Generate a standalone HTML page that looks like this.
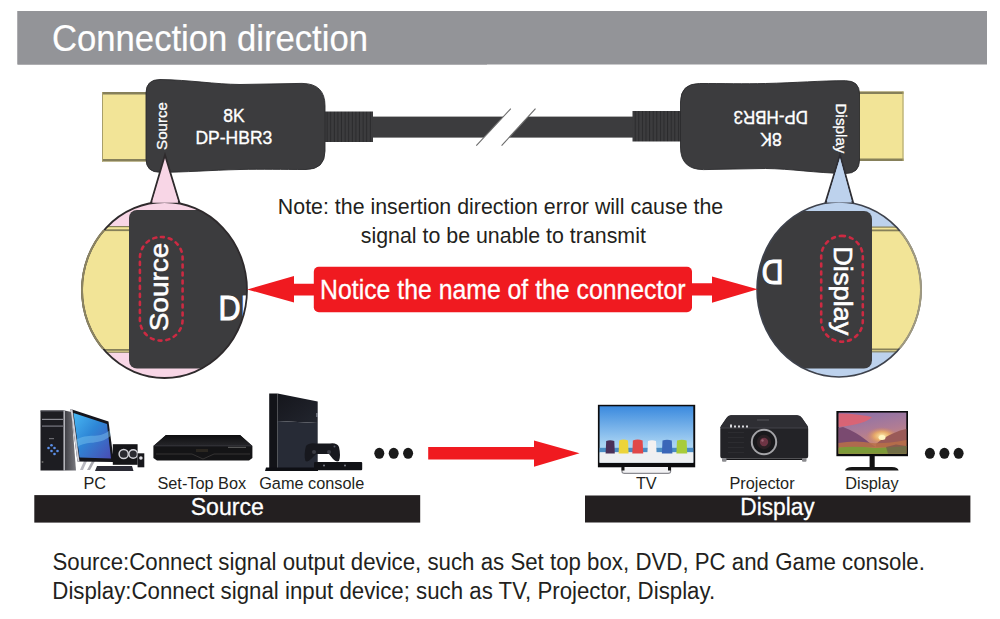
<!DOCTYPE html>
<html><head><meta charset="utf-8">
<style>
html,body{margin:0;padding:0;background:#fff;}
body{width:1000px;height:619px;overflow:hidden;position:relative;}
svg{position:absolute;left:0;top:0;}
text{font-family:"Liberation Sans",sans-serif;}
</style></head><body>
<svg width="1000" height="619" viewBox="0 0 1000 619">
<defs>
  <clipPath id="cl"><ellipse cx="164.5" cy="290" rx="82.5" ry="88"/></clipPath>
  <clipPath id="yl"><rect x="60" y="230" width="69" height="119"/></clipPath><clipPath id="yr"><rect x="872" y="231" width="60" height="117.5"/></clipPath>
  <clipPath id="cr"><ellipse cx="839" cy="289.5" rx="82" ry="87.5"/></clipPath>
  <pattern id="ribs" x="0" y="0" width="3.6" height="10" patternUnits="userSpaceOnUse">
    <rect width="3.6" height="10" fill="#3c3c3e"/><rect x="2.6" width="1" height="10" fill="#2a2a2c"/>
  </pattern>

  <linearGradient id="towerSide" x1="0" y1="0" x2="1" y2="0"><stop offset="0" stop-color="#3e3e44"/><stop offset="1" stop-color="#7a7a80"/></linearGradient>
  <linearGradient id="pcScreen" x1="0" y1="0" x2="1" y2="1"><stop offset="0" stop-color="#48b8f4"/><stop offset="0.45" stop-color="#2e86d6"/><stop offset="1" stop-color="#4a4cb4"/></linearGradient>
  <linearGradient id="stbTop" x1="0" y1="0" x2="0" y2="1"><stop offset="0" stop-color="#0e0e10"/><stop offset="1" stop-color="#26262a"/></linearGradient>
  <linearGradient id="psTop" x1="0" y1="0" x2="1" y2="1"><stop offset="0" stop-color="#15161c"/><stop offset="1" stop-color="#22252e"/></linearGradient>
  <linearGradient id="tvScreen" x1="0" y1="0" x2="0" y2="1"><stop offset="0" stop-color="#3b8ade"/><stop offset="0.65" stop-color="#a4d0f2"/><stop offset="1" stop-color="#c8e4f8"/></linearGradient>
  <linearGradient id="monSky" x1="0" y1="0" x2="0.3" y2="1"><stop offset="0" stop-color="#8670ac"/><stop offset="0.55" stop-color="#b07c94"/><stop offset="1" stop-color="#d49070"/></linearGradient><radialGradient id="sunGlow"><stop offset="0" stop-color="#fff0b0"/><stop offset="0.5" stop-color="#f0b060" stop-opacity="0.8"/><stop offset="1" stop-color="#d08060" stop-opacity="0"/></radialGradient>
</defs>
<!-- header -->
<rect x="17.5" y="11" width="469.5" height="53.5" fill="#939498"/>
<rect x="17.5" y="11" width="969.5" height="53.5" fill="#939498"/>
<text transform="translate(52 50.6) scale(0.937 1)" font-size="37" fill="#fff" stroke="#fff" stroke-width="0.2">Connection direction</text>

<!-- cable -->
<rect x="370" y="116.6" width="265" height="21" fill="#3c3c3e"/>
<polygon points="476.3,145.6 510.8,108.7 535.5,108.7 501.6,145.6" fill="#fff"/>
<line x1="476.3" y1="145.6" x2="510.8" y2="108.7" stroke="#6a6a6a" stroke-width="1.1"/>
<line x1="501.6" y1="145.6" x2="535.5" y2="108.7" stroke="#6a6a6a" stroke-width="1.1"/>

<!-- left connector -->
<g id="conn">
  <rect x="102" y="92" width="46" height="69.5" fill="#f2e497"/>
  <rect x="102" y="92" width="46" height="2.5" fill="#86805a"/>
  <rect x="102" y="159" width="46" height="2.5" fill="#86805a"/>
  <rect x="102" y="92" width="1" height="69.5" fill="#a89f6a"/>
  <rect x="322" y="111.5" width="51" height="30.5" fill="url(#ribs)"/>
  <path d="M146,93 Q146,79.5 160,79.5 C190,80 215,84.3 240,84.5 L302,83.4 Q325,83.5 325,106 L325,151 Q325,169.5 306,169.5 C282,169.5 262,169 240,169.5 C210,170.2 185,172.3 160,172.3 Q146,172.3 146,159 Z" fill="#3c3c3e" stroke="#2a2a2c" stroke-width="0.9"/>
</g>
<g transform="rotate(180 502.75 126.5)">
  <rect x="102" y="92" width="46" height="69.5" fill="#f2e497"/>
  <rect x="102" y="92" width="46" height="2.5" fill="#86805a"/>
  <rect x="102" y="159" width="46" height="2.5" fill="#86805a"/>
  <rect x="102" y="92" width="1" height="69.5" fill="#a89f6a"/>
  <rect x="322" y="111.5" width="51" height="30.5" fill="url(#ribs)"/>
  <path d="M146,93 Q146,79.5 160,79.5 C190,80 215,84.3 240,84.5 L302,83.4 Q325,83.5 325,106 L325,151 Q325,169.5 306,169.5 C282,169.5 262,169 240,169.5 C210,170.2 185,172.3 160,172.3 Q146,172.3 146,159 Z" fill="#3c3c3e" stroke="#2a2a2c" stroke-width="0.9"/>
</g>
<text x="233.9" y="122.2" font-size="17.5" fill="#fff" stroke="#fff" stroke-width="0.35" text-anchor="middle">8K</text>
<text x="233.9" y="143.9" font-size="17.5" fill="#fff" stroke="#fff" stroke-width="0.35" text-anchor="middle">DP-HBR3</text>
<text transform="translate(167.4 126) rotate(-90) scale(1.02 1)" font-size="14.8" fill="#fff" stroke="#fff" stroke-width="0.3" text-anchor="middle">Source</text>
<text transform="translate(770.8 111) rotate(180) scale(0.97 1)" font-size="17.5" fill="#fff" stroke="#fff" stroke-width="0.35" text-anchor="middle">DP-HBR3</text>
<text transform="translate(771.1 133) rotate(180)" font-size="17.5" fill="#fff" stroke="#fff" stroke-width="0.35" text-anchor="middle">8K</text>
<text transform="translate(836.2 128.5) rotate(90) scale(1.03 1)" font-size="14.8" fill="#fff" stroke="#fff" stroke-width="0.3" text-anchor="middle">Display</text>

<!-- left magnifier -->
<polygon points="165,155 151,202.5 179.4,202.5" fill="#f8d6e6" stroke="#2e2a2c" stroke-width="1.8" stroke-linejoin="miter"/>
<ellipse cx="164.5" cy="290" rx="82.5" ry="88" fill="#f8d6e6"/>
<g clip-path="url(#cl)">
  <rect x="70" y="226" width="60" height="126" fill="#f2e497"/>
  <rect x="70" y="226" width="60" height="1.2" fill="#86805a"/>
  <rect x="70" y="229.3" width="60" height="1.8" fill="#86805a"/>
  <rect x="70" y="349" width="60" height="1.8" fill="#86805a"/>
  <rect x="70" y="351.6" width="60" height="1.2" fill="#86805a"/>
  <rect x="129" y="210" width="200" height="158.5" rx="8" fill="#3c3c3e"/>
  <text transform="translate(218.6 319.6) scale(0.86 1)" font-size="35.6" fill="#fff" stroke="#fff" stroke-width="1.05">DP</text>
</g>
<ellipse cx="164.5" cy="290" rx="82.5" ry="88" fill="none" stroke="#2e2a2c" stroke-width="1.8"/>
<ellipse cx="164.5" cy="290" rx="82.5" ry="88" fill="none" stroke="#8c8462" stroke-width="2" clip-path="url(#yl)"/>
<polygon points="165,162 152.2,202.8 178.2,202.8" fill="#f8d6e6"/>
<rect x="139.9" y="237" width="42.7" height="103.6" rx="21" fill="none" stroke="#cc2a42" stroke-width="2.6" stroke-linecap="round" stroke-dasharray="3 5"/>
<text transform="translate(168.4 287) rotate(-90) scale(1.08 1)" font-size="25.9" fill="#fff" stroke="#fff" stroke-width="0.55" text-anchor="middle">Source</text>

<!-- right magnifier -->
<polygon points="840,155 825.6,202 853,202" fill="#bdd2ed" stroke="#2e2e34" stroke-width="1.8"/>
<ellipse cx="839" cy="289.5" rx="82" ry="87.5" fill="#bdd2ed"/>
<g clip-path="url(#cr)">
  <rect x="871" y="227" width="60" height="124.5" fill="#f2e497"/>
  <rect x="871" y="226.5" width="60" height="1.2" fill="#86805a"/>
  <rect x="871" y="229.5" width="60" height="1.8" fill="#86805a"/>
  <rect x="871" y="348.5" width="60" height="1.8" fill="#86805a"/>
  <rect x="871" y="351.2" width="60" height="1.2" fill="#86805a"/>
  <rect x="672" y="211" width="200" height="157.5" rx="8" fill="#3c3c3e"/>
  <text transform="translate(783.4 260) rotate(180) scale(0.86 1)" font-size="35.2" fill="#fff" stroke="#fff" stroke-width="1.05">D</text>
</g>
<ellipse cx="839" cy="289.5" rx="82" ry="87.5" fill="none" stroke="#3e424c" stroke-width="1.6"/>
<ellipse cx="839" cy="289.5" rx="82" ry="87.5" fill="none" stroke="#a09a80" stroke-width="2" clip-path="url(#yr)"/>
<polygon points="840,158 826.8,202.4 851.8,202.4" fill="#bdd2ed"/>
<rect x="821.2" y="235.9" width="41.6" height="105.8" rx="20.8" fill="none" stroke="#cc2a42" stroke-width="2.6" stroke-linecap="round" stroke-dasharray="3 5"/>
<text transform="translate(833.7 290.8) rotate(90) scale(1.06 1)" font-size="25.7" fill="#fff" stroke="#fff" stroke-width="0.55" text-anchor="middle">Display</text>

<!-- note -->
<text transform="translate(500.5 213.5) scale(0.95 1)" font-size="22.5" fill="#231f20" text-anchor="middle">Note: the insertion direction error will cause the</text>
<text transform="translate(503.3 242.7) scale(0.95 1)" font-size="22.5" fill="#231f20" text-anchor="middle">signal to be unable to transmit</text>

<!-- red arrows -->
<polygon points="247.2,289.4 294,276 294,283.7 316,283.7 316,295.4 294,295.4 294,302.6" fill="#f01a20"/>
<rect x="313.8" y="266.7" width="378.2" height="45.5" rx="5" fill="#f01a20"/>
<polygon points="757.6,289.3 712,276.4 712,283.2 690,283.2 690,295.6 712,295.6 712,302.8" fill="#f01a20"/>
<text transform="translate(502.75 299.2) scale(0.926 1)" font-size="26.8" fill="#fff" stroke="#fff" stroke-width="0.3" text-anchor="middle">Notice the name of the connector</text>

<!-- devices arrow + dots -->
<ellipse cx="379.3" cy="453.3" rx="5" ry="5.5" fill="#1a1a1a"/>
<ellipse cx="393.7" cy="453.3" rx="5" ry="5.5" fill="#1a1a1a"/>
<ellipse cx="408.1" cy="453.3" rx="5" ry="5.5" fill="#1a1a1a"/>
<ellipse cx="929.9" cy="453.3" rx="5" ry="5.5" fill="#1a1a1a"/>
<ellipse cx="944.4" cy="453.3" rx="5" ry="5.5" fill="#1a1a1a"/>
<ellipse cx="958.6" cy="453.3" rx="5" ry="5.5" fill="#1a1a1a"/>
<polygon points="428.2,447 534,447 534,440.4 579.6,453.2 534,466.8 534,459.5 428.2,459.5" fill="#f01a20"/>

<!-- labels -->
<text x="94.8" y="489.2" font-size="16.3" fill="#231f20" text-anchor="middle">PC</text>
<text x="201.8" y="489.2" font-size="16.3" fill="#231f20" text-anchor="middle">Set-Top Box</text>
<text x="311.7" y="489.2" font-size="16.3" fill="#231f20" text-anchor="middle">Game console</text>
<text x="646.3" y="489.4" font-size="16.3" fill="#231f20" text-anchor="middle">TV</text>
<text x="762" y="489.4" font-size="16.3" fill="#231f20" text-anchor="middle">Projector</text>
<text x="872" y="489.4" font-size="16.3" fill="#231f20" text-anchor="middle">Display</text>

<rect x="34.3" y="495.1" width="385.9" height="27.5" fill="#231f20"/>
<rect x="585" y="495.5" width="385.4" height="27" fill="#231f20"/>
<text transform="translate(227.3 515.3) scale(0.955 1)" font-size="24.2" fill="#fff" stroke="#fff" stroke-width="0.3" text-anchor="middle">Source</text>
<text transform="translate(777.5 515.2) scale(0.938 1)" font-size="24.2" fill="#fff" stroke="#fff" stroke-width="0.3" text-anchor="middle">Display</text>

<text transform="translate(52.5 570) scale(0.92 1)" font-size="24.2" fill="#231f20">Source:Connect signal output device, such as Set top box, DVD, PC and Game console.</text>
<text transform="translate(52.3 598.6) scale(0.92 1)" font-size="24.2" fill="#231f20">Display:Connect signal input device; such as TV, Projector, Display.</text>

<g id="devices"><g id="pc">
  <!-- tower side -->
  <polygon points="64.5,410.5 71.5,412 76,470.5 64.5,470.5" fill="url(#towerSide)"/>
  <!-- tower front -->
  <rect x="40.5" y="410.5" width="24" height="60" fill="#1d1d22"/>
  <rect x="40.5" y="410.5" width="24" height="1" fill="#55555c"/>
  <rect x="63.5" y="410.5" width="1.3" height="60" fill="#c9c9cf"/>
  <rect x="42" y="418.8" width="21" height="1.2" fill="#8a8a92"/>
  <rect x="42" y="425.5" width="21" height="1.2" fill="#7a7a82"/>
  <rect x="49" y="438" width="5" height="1.2" fill="#6a6a70"/>
  <g fill="#5b8fe8">
    <circle cx="51.5" cy="445.2" r="1.3"/><circle cx="48.5" cy="448" r="1.3"/><circle cx="54.5" cy="448" r="1.3"/>
    <circle cx="51.5" cy="451" r="1.3"/><circle cx="57.5" cy="451" r="1.3"/><circle cx="54.5" cy="454" r="1.3"/>
  </g>
  <circle cx="42.5" cy="462" r="1" fill="#666"/>
  <!-- monitor legs -->
  <polygon points="84,461 87,461 83,470 80,470" fill="#b8b8c0"/>
  <polygon points="92,461 95,461 90,470 87,470" fill="#a8a8b0"/>
  <!-- monitor -->
  <polygon points="70.5,409 108.5,421.5 114,462 77.5,461.5" fill="#15151c"/>
  <polygon points="70.5,409 72.5,409.6 79.5,461.5 77.5,461.5" fill="#d0d0d8"/>
  <polygon points="73.5,413 107,424 111,458.5 79.5,457.5" fill="url(#pcScreen)"/>
  <path d="M76,440 C88,432 98,440 110,430 L110.5,436 C98,446 88,440 77,447 Z" fill="#7cc6f0" opacity="0.45"/>
  <!-- keyboard -->
  <polygon points="97,466 132,466 133.5,471 95,471" fill="#2a2a34"/>
  <!-- speakers -->
  <rect x="112.8" y="444.2" width="24.8" height="20.6" fill="#151518"/>
  <circle cx="123.7" cy="454" r="4.6" fill="#2a2a30" stroke="#d0d0d6" stroke-width="1.5"/>
  <circle cx="133.2" cy="454" r="4.3" fill="#2a2a30" stroke="#d0d0d6" stroke-width="1.5"/>
  <rect x="137.6" y="453.3" width="6.7" height="14" fill="#18181c"/>
  <circle cx="140.9" cy="458" r="1.8" fill="#e0e0e6"/>
</g>
<g id="stb">
  <polygon points="166,435 240,435 252.4,446 252.4,458 249,460.5 157,460.5 153.4,458 153.4,446" fill="#141416"/>
  <polygon points="166,435 240,435 252.4,446 153.4,446" fill="url(#stbTop)"/>
  <rect x="154" y="445.5" width="98" height="0.8" fill="#3a3a40"/>
  <path d="M156,454 L192,454 L203,459 L214,454 L250,454" stroke="#3c3a3a" stroke-width="0.8" fill="none"/>
  <rect x="196" y="449" width="12" height="3" fill="#2a2620"/>
  <rect x="228" y="446.8" width="18" height="1.2" fill="#555"/>
</g>
<g id="ps4">
  <polygon points="269.2,393.6 277.6,393.6 277.6,470 269.2,468" fill="#121318"/>
  <polygon points="277.6,393.6 317.7,401.4 317.7,423 277.6,421" fill="url(#psTop)"/>
  <polygon points="277.6,421 317.7,423 317.7,470 277.6,470" fill="#272b36"/>
  <polygon points="266,467.5 318,467.5 318,471 265,471" fill="#0e0f14"/>
  <rect x="316.3" y="413" width="1.3" height="4" fill="#8a8f9a"/>
  <!-- controller -->
  <path d="M306,446 Q309,442.5 316,443.5 L330,443.5 Q337,442.5 339,447 Q341,456 339,461 Q336,462.5 333,459 L329,454 L316,454 L311,459 Q308,462.5 305.5,461 Q303.5,455 306,446 Z" fill="#17181e"/>
  <circle cx="314" cy="452" r="2" fill="#3a3c44"/><circle cx="329" cy="452" r="2" fill="#3a3c44"/>
  <circle cx="334.5" cy="446.5" r="1" fill="#555a66"/>
  <!-- camera -->
  <rect x="314" y="462" width="48.2" height="8.3" rx="1" fill="#111216"/>
  <circle cx="324" cy="465.5" r="1" fill="#7a7e88"/><circle cx="345" cy="465.5" r="1" fill="#7a7e88"/>
</g>
<g id="tv">
  <rect x="597.9" y="404.8" width="97.3" height="62.5" fill="#0c0c0e"/>
  <rect x="599.6" y="406.3" width="93.7" height="56.4" fill="url(#tvScreen)"/>
  <rect x="599.6" y="447.8" width="93.7" height="4.5" fill="#4a8cc4"/>
  <rect x="599.6" y="452.3" width="93.7" height="10.4" fill="#eef0f2"/>
  <g>
    <path d="M606.2,441 Q610,439.3 614.3,441 L614.8,453.5 L605.6,453.5 Z" fill="#4a3058"/>
    <path d="M619.2,440.5 Q623.5,438.6 628,440.5 L628.6,453.5 L618.6,453.5 Z" fill="#ecd43a"/>
    <path d="M632.9,440.5 Q637.5,438.6 642.6,440.5 L643.2,453.5 L632.3,453.5 Z" fill="#e04848"/>
    <path d="M648,441 Q652,439.3 656,441 L656.6,453.5 L647.4,453.5 Z" fill="#f2f0f0"/>
    <path d="M662.5,440.5 Q667,438.8 671.8,440.5 L672.4,453.5 L661.9,453.5 Z" fill="#3a66b8"/>
    <path d="M677,440.5 Q682,438.8 686.6,440.5 L687.2,453.5 L676.4,453.5 Z" fill="#a8cc3a"/>
  </g>
  <path d="M622,467 L622,471.5 Q622,473.3 624.5,473.3 L668,473.3 Q670.6,473.3 670.6,471.5 L670.6,467" fill="#f2f2f4" stroke="#8a8a90" stroke-width="1.2"/>
  <rect x="621.5" y="467" width="3" height="3.5" fill="#111"/>
  <rect x="668" y="467" width="3" height="3.5" fill="#111"/>
</g>
<g id="projector">
  <path d="M731,415.3 L797,415.3 Q800.5,415.3 802,418 L807.5,426 Q808.2,427.5 808.2,429 L808.2,456 Q808.2,458.5 805.5,458.5 L723,458.5 Q720.3,458.5 720.3,456 L720.3,429 Q720.3,427.5 721,426 L726.5,418 Q728,415.3 731,415.3 Z" fill="#232327"/>
  <path d="M731,415.3 L797,415.3 Q800.5,415.3 802,418 L807.5,426 Q808,427 808.2,428 L720.3,428 Q720.5,427 721,426 L726.5,418 Q728,415.3 731,415.3 Z" fill="#2e2e33"/>
  <rect x="721" y="427.6" width="86.5" height="0.8" fill="#4a4a50"/>
  <rect x="757" y="419.5" width="12" height="1" fill="#55555a"/>
  <rect x="726" y="458.5" width="77" height="1.5" fill="#151518"/>
  <rect x="722" y="458" width="4.5" height="3.8" rx="1" fill="#8a8a8e"/>
  <rect x="802" y="458" width="4.5" height="3.8" rx="1" fill="#8a8a8e"/>
  <g fill="#d8d8dc"><rect x="730" y="424.5" width="2" height="3"/><rect x="734" y="425.5" width="2" height="2"/><rect x="738" y="425.5" width="2" height="2"/><rect x="742" y="425.5" width="2" height="2"/><rect x="746" y="425.5" width="2" height="2"/></g>
  <g fill="#2c2c30"><rect x="728" y="432" width="16" height="1"/><rect x="728" y="437" width="16" height="1"/><rect x="728" y="442" width="16" height="1"/><rect x="728" y="447" width="16" height="1"/><rect x="728" y="452" width="16" height="1"/></g>
  <circle cx="764" cy="442" r="13.2" fill="#a4a4a8"/>
  <circle cx="764" cy="442" r="11.2" fill="#18181b"/>
  <circle cx="764" cy="442" r="7.2" fill="#2a2024"/>
  <circle cx="764" cy="442" r="4.2" fill="#6e3444"/>
  <circle cx="762.5" cy="440.5" r="1.2" fill="#b88090" opacity="0.6"/>
</g>
<g id="monitor">
  <rect x="836.4" y="411" width="71.6" height="45.2" fill="#0b0b0d"/>
  <rect x="838.6" y="412.6" width="67.7" height="41.2" fill="url(#monSky)"/>
  <path d="M838.6,413.5 Q852,412.8 872,417 Q866,424 838.6,427 Z" fill="#e8606a" opacity="0.8"/>
  <ellipse cx="882" cy="436" rx="16" ry="9" fill="url(#sunGlow)"/>
  <path d="M838.6,428 L843,427 Q856,432 866,440 Q872,445 876,447 L838.6,447 Z" fill="#7a4a70"/>
  <path d="M876,444 Q884,437 894,433 Q900,430 906.3,429 L906.3,447 L876,447 Z" fill="#9a5a58"/>
  <path d="M838.6,443 Q855,440 872,443 Q885,444 906.3,440 L906.3,453.8 L838.6,453.8 Z" fill="#b87048" opacity="0.85"/>
  <path d="M838.6,447.5 Q855,446 875,448 Q892,447.5 906.3,446 L906.3,453.8 L838.6,453.8 Z" fill="#7c9a38"/>
  <path d="M886,447 L896,444.5 L906.3,446 L906.3,453.8 L888,453.8 Z" fill="#6a5050" opacity="0.6"/>
  <ellipse cx="882" cy="437.5" rx="3.5" ry="2.5" fill="#fff4c0"/>
  <rect x="869.6" y="456" width="5.1" height="11.5" fill="#111"/>
  <path d="M845,470.5 Q846,467 852,467 L892,467 Q898,467 898.6,470.5 Z" fill="#151515"/>
</g>
</g>
</svg>
</body></html>
